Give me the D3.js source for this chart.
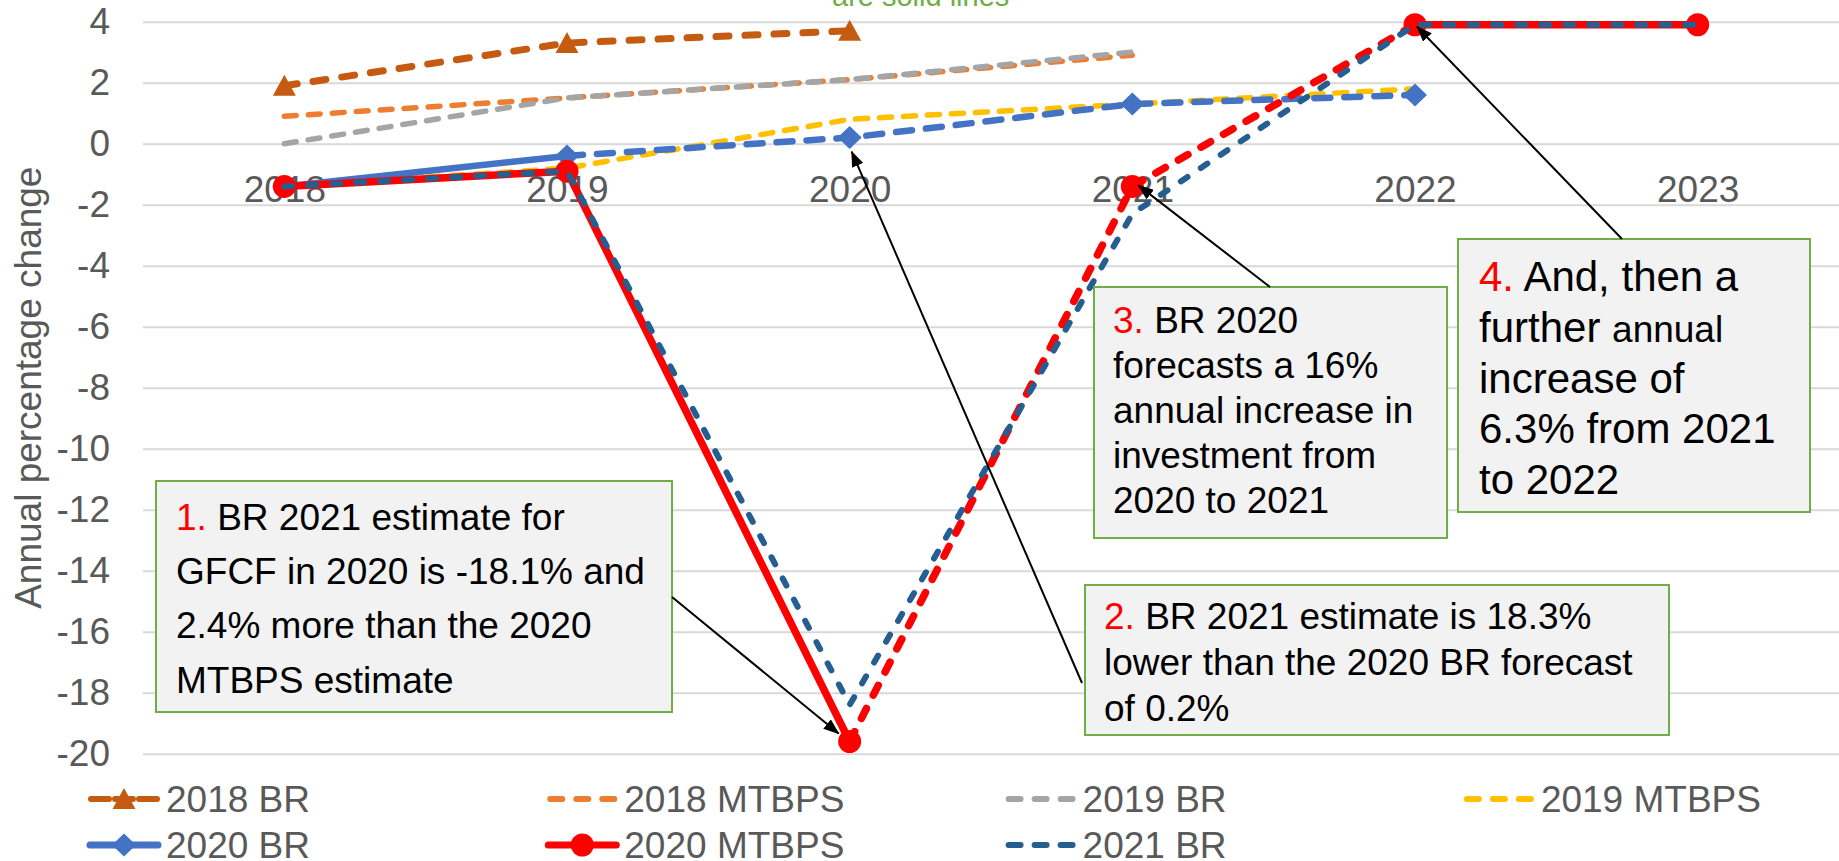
<!DOCTYPE html>
<meta charset="utf-8">
<head>
<style>
    body { margin: 0; background: #fff; }
    svg { display: block; font-family: "Liberation Sans", Arial, sans-serif; }
    .axis text { fill: #595959; font-size: 37px; }
    .grid line { stroke: #d9d9d9; stroke-width: 2; }
    .note rect { fill: #f2f2f2; stroke: #70ad47; stroke-width: 2; }
    .note text { fill: #000; }
</style>
</head>
<body>
<div class="chart"></div>
<script src="https://d3js.org/d3.v7.min.js"></script>
<script>
// categories and ticks
var years = ["2018", "2019", "2020", "2021", "2022", "2023"];
var yTicks = [-20, -18, -16, -14, -12, -10, -8, -6, -4, -2, 0, 2, 4];

// annual percentage change per forecast vintage (null = not in that vintage)
var br2018    = [1.9, 3.3, 3.7, null, null, null];
var mtbps2018 = [0.9, 1.5, 2.1, 2.9, null, null];
var br2019    = [0.0, 1.5, 2.1, 3.0, null, null];
var mtbps2019 = [-1.4, -0.8, 0.8, 1.3, 1.8, null];
var br2020    = [-1.4, -0.4, 0.2, 1.3, 1.6, null];
var mtbps2020 = [-1.4, -0.9, -19.6, -1.4, 3.9, 3.9];
var br2021    = [-1.4, -0.9, -18.4, -2.3, 3.9, 3.9];

var seriesNames = ["2018 BR", "2018 MTBPS", "2019 BR", "2019 MTBPS", "2020 BR", "2020 MTBPS", "2021 BR"];

var width = 1839, height = 861;
var red = "#ff0000";

var x = d3.scalePoint().domain(years).range([143, 1839]).padding(0.5);
var y = d3.scaleLinear().domain([-20, 4]).range([753.7, 21.7]);

// look of each series, same order as seriesNames
// solid = index of the year a solid (not dashed) segment starts at
var styles = [
    {color: "#C55A11", w: 7, dash: "13,16", marker: "triangle", solid: []},
    {color: "#ED7D31", w: 5.5, dash: "12,12", solid: []},
    {color: "#A5A5A5", w: 5.5, dash: "12,12", solid: []},
    {color: "#FFC000", w: 5.5, dash: "12,12", solid: []},
    {color: "#4472C4", w: 6.5, dash: "16,14", marker: "diamond", solid: [0]},
    {color: "#FF0000", w: 7.5, dash: "11,15", marker: "circle", solid: [0, 1, 4]},
    {color: "#255E91", w: 6, dash: "8,16", solid: []}
];
var values = [br2018, mtbps2018, br2019, mtbps2019, br2020, mtbps2020, br2021];

var series = seriesNames.map(function (name, i) {
    return {
        name: name,
        style: styles[i],
        points: years.map(function (yr, j) { return {year: yr, idx: j, v: values[i][j]}; })
            .filter(function (d) { return d.v !== null; })
    };
});

var svg = d3.select(".chart").append("svg")
    .attr("width", width)
    .attr("height", height);

svg.append("rect").attr("width", width).attr("height", height).attr("fill", "#fff");

// cut-off text at the very top
svg.append("text")
    .attr("x", 832).attr("y", 6)
    .attr("font-size", 29)
    .attr("fill", "#70AD47")
    .text("are solid lines");

// gridlines + y tick labels (plain hyphen minus like the original)
var yAxis = svg.append("g")
    .attr("class", "axis grid")
    .attr("transform", "translate(143,0)")
    .call(d3.axisLeft(y).tickValues(yTicks).tickSize(-(width - 143)).tickPadding(33)
        .tickFormat(function (d) { return String(d); }));
yAxis.select(".domain").remove();

// category labels sit next to the zero line
var xAxis = svg.append("g")
    .attr("class", "axis")
    .attr("transform", "translate(0," + y(0) + ")")
    .call(d3.axisBottom(x).tickSize(0).tickPadding(32));
xAxis.select(".domain").remove();

svg.append("text")
    .attr("transform", "translate(41," + ((y(4) + y(-20)) / 2) + ") rotate(-90)")
    .attr("text-anchor", "middle")
    .attr("font-size", 37)
    .attr("fill", "#595959")
    .text("Annual percentage change");

function markerPath(type) {
    if (type === "triangle") return "M0,-11L11.5,10L-11.5,10Z";
    if (type === "diamond") return "M0,-11.5L12,0L0,11.5L-12,0Z";
    return null;
}

function drawMarker(g, type, cx, cy, color) {
    if (!type) return;
    if (type === "circle") {
        g.append("circle").attr("cx", cx).attr("cy", cy).attr("r", 11.5).attr("fill", color);
    } else {
        g.append("path").attr("d", markerPath(type))
            .attr("transform", "translate(" + cx + "," + cy + ")")
            .attr("fill", color);
    }
}

var line = d3.line()
    .x(function (d) { return x(d.year); })
    .y(function (d) { return y(d.v); });

var lines = svg.append("g");
series.forEach(function (s) {
    var g = lines.append("g");
    var st = s.style;
    // split into runs of solid / dashed segments
    var runs = [];
    for (var k = 0; k < s.points.length - 1; k++) {
        var isSolid = st.solid.indexOf(s.points[k].idx) >= 0;
        var last = runs[runs.length - 1];
        if (last && last.solid === isSolid) {
            last.pts.push(s.points[k + 1]);
        } else {
            runs.push({solid: isSolid, pts: [s.points[k], s.points[k + 1]]});
        }
    }
    runs.forEach(function (r) {
        g.append("path")
            .attr("d", line(r.pts))
            .attr("fill", "none")
            .attr("stroke", st.color)
            .attr("stroke-width", st.w)
            .attr("stroke-linecap", "round")
            .attr("stroke-linejoin", "round")
            .attr("stroke-dasharray", r.solid ? null : st.dash);
    });
    s.points.forEach(function (d) {
        drawMarker(g, st.marker, x(d.year), y(d.v), st.color);
    });
});

// legend
var legend = svg.append("g");
series.forEach(function (s, i) {
    var row = i < 4 ? 0 : 1;
    var col = i < 4 ? i : i - 4;
    var x0 = 87 + col * 458.3;
    var cy = row === 0 ? 799 : 845;
    var st = s.style;
    var g = legend.append("g");
    if (st.marker === "triangle") {
        g.append("path").attr("d", "M" + (x0 + 4) + "," + cy + "H" + (x0 + 70))
            .attr("stroke", st.color).attr("stroke-width", 6).attr("stroke-linecap", "round")
            .attr("stroke-dasharray", "18,6,18,6,18");
    } else if (st.marker) {
        g.append("path").attr("d", "M" + (x0 + 3) + "," + cy + "H" + (x0 + 71))
            .attr("stroke", st.color).attr("stroke-width", 7).attr("stroke-linecap", "round");
    } else {
        g.append("path").attr("d", "M" + (x0 + 5) + "," + cy + "H" + (x0 + 69))
            .attr("stroke", st.color).attr("stroke-width", 6).attr("stroke-linecap", "round")
            .attr("stroke-dasharray", "12,14");
    }
    drawMarker(g, st.marker, x0 + 37, cy, st.color);
    g.append("text")
        .attr("x", x0 + 79).attr("y", cy + 13)
        .attr("font-size", 37).attr("fill", "#595959")
        .text(s.name);
});

// annotation boxes
var notes = [
    {box: [156, 481, 516, 231], tx: 176, size: 37, base: [530, 584, 638, 693], lines: [
        [["1. ", red], ["BR 2021 estimate for"]],
        [["GFCF in 2020 is -18.1% and"]],
        [["2.4% more than the 2020"]],
        [["MTBPS estimate"]]]},
    {box: [1085, 585, 584, 150], tx: 1104, size: 37, base: [629, 675, 721], lines: [
        [["2. ", red], ["BR 2021 estimate is 18.3%"]],
        [["lower than the 2020 BR forecast"]],
        [["of 0.2%"]]]},
    {box: [1094, 287, 353, 251], tx: 1113, size: 37, base: [333, 378, 423, 468, 513], lines: [
        [["3. ", red], ["BR 2020"]],
        [["forecasts a 16%"]],
        [["annual increase in"]],
        [["investment from"]],
        [["2020 to 2021"]]]},
    {box: [1458, 239, 352, 273], tx: 1479, size: 42, base: [291, 342, 393, 443, 494], lines: [
        [["4. ", red], ["And, then a"]],
        [["further "], ["annual", null, 37]],
        [["increase of"]],
        [["6.3% from 2021"]],
        [["to 2022"]]]}
];

// arrows: from a box edge to a data point (with a small pixel offset)
var arrows = [
    {from: [672, 597], year: "2020", v: mtbps2020[2], dx: -11, dy: -8},
    {from: [1082, 683], year: "2020", v: br2020[2], dx: 2, dy: 14},
    {from: [1270, 287], year: "2021", v: mtbps2020[3], dx: 6, dy: -1},
    {from: [1622, 239], year: "2022", v: mtbps2020[4], dx: 2, dy: 2}
];

svg.append("defs").append("marker")
    .attr("id", "head")
    .attr("viewBox", "0 0 16 12")
    .attr("refX", 15).attr("refY", 6)
    .attr("markerWidth", 16).attr("markerHeight", 12)
    .attr("markerUnits", "userSpaceOnUse")
    .attr("orient", "auto")
    .append("path").attr("d", "M0,0L16,6L0,12Z").attr("fill", "#000");

var noteG = svg.append("g");
notes.forEach(function (n) {
    var g = noteG.append("g").attr("class", "note");
    g.append("rect").attr("x", n.box[0]).attr("y", n.box[1]).attr("width", n.box[2]).attr("height", n.box[3]);
    n.lines.forEach(function (ln, i) {
        var t = g.append("text").attr("x", n.tx).attr("y", n.base[i]).attr("font-size", n.size);
        ln.forEach(function (part) {
            var ts = t.append("tspan").text(part[0]);
            if (part[1]) ts.attr("fill", part[1]);
            if (part[2]) ts.attr("font-size", part[2]);
        });
    });
});

arrows.forEach(function (a) {
    svg.append("line")
        .attr("x1", a.from[0]).attr("y1", a.from[1])
        .attr("x2", x(a.year) + a.dx).attr("y2", y(a.v) + a.dy)
        .attr("stroke", "#000").attr("stroke-width", 2)
        .attr("marker-end", "url(#head)");
});
</script>
</body>
